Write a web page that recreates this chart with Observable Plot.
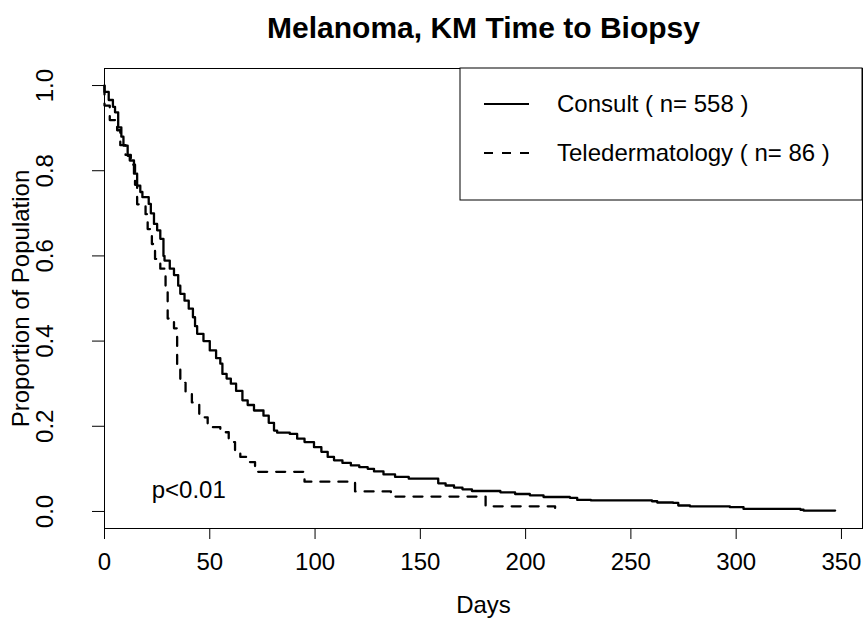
<!DOCTYPE html>
<html><head><meta charset="utf-8">
<script src="https://cdn.jsdelivr.net/npm/d3@7"></script>
<script src="https://cdn.jsdelivr.net/npm/@observablehq/plot@0.6"></script>
<style>
body{margin:0;background:#fff;}
#chart{width:864px;height:619px;}
</style></head><body><div id="chart"></div>
<script>
const titleText = "Melanoma, KM Time to Biopsy";
const xLabel = "Days";
const yLabel = "Proportion of Population";
const seriesNames = ["Consult ( n= 558 )", "Teledermatology ( n= 86 )"];
const pValueText = "p<0.01";
const pValuePos = [40, 0.05];
const xTicks = [0, 50, 100, 150, 200, 250, 300, 350];
const yTicks = [0, 0.2, 0.4, 0.6, 0.8, 1.0];

const consultDays = [0,0,2,4,5,6.5,8,9,11,12,14,15.5,17,18,21,22,23.5,25,26.5,28,28.5,31,33,35,36,38,40,42,43,44,47,50,53,55,56,58,60,62.5,65.5,68,71,75.5,78,80.5,82,88,91.5,95,99.5,103,106,109,113,117,121,125,128,132.5,138,144.5,158.5,162,166,170,174.5,188,195,202,208.5,221,224.5,231,260,262.5,270,272.5,278,297,303.5,330.5,332,347];
const consultSurv = [1,0.985,0.966,0.950,0.937,0.902,0.880,0.859,0.835,0.824,0.793,0.765,0.750,0.738,0.722,0.700,0.675,0.660,0.640,0.600,0.589,0.570,0.555,0.530,0.511,0.495,0.476,0.456,0.435,0.417,0.400,0.378,0.360,0.347,0.323,0.312,0.300,0.283,0.261,0.250,0.237,0.225,0.208,0.190,0.185,0.182,0.171,0.163,0.151,0.140,0.128,0.120,0.114,0.108,0.104,0.100,0.094,0.087,0.081,0.077,0.066,0.061,0.056,0.052,0.048,0.045,0.041,0.038,0.034,0.032,0.027,0.026,0.024,0.021,0.020,0.014,0.012,0.010,0.006,0.004,0.002,0.002];

const teleDays = [0,0,2.5,6,7.5,10,12.5,14.5,15.5,19.5,20.5,22.5,24,26.5,29,30,33,34.5,36,38.5,41.5,45,49,55,59,62,64.5,68,71.5,95,119,136,181,214];
const teleSurv = [1,0.953,0.919,0.895,0.860,0.837,0.814,0.767,0.721,0.698,0.663,0.628,0.593,0.570,0.523,0.453,0.430,0.337,0.302,0.279,0.256,0.221,0.198,0.186,0.163,0.140,0.128,0.116,0.093,0.070,0.047,0.035,0.012,0];

const consult = consultDays.map((d, i) => ({day: d, surv: consultSurv[i]}));
const tele = teleDays.map((d, i) => ({day: d, surv: teleSurv[i]}));

const FONT = "'Liberation Sans', Arial, Helvetica, sans-serif";
const DASH = "9,9";

const plot = Plot.plot({
  width: 864, height: 619,
  marginLeft: 104, marginRight: 2, marginTop: 68, marginBottom: 91,
  style: {fontFamily: FONT, fontSize: "24px", color: "black", background: "white", overflow: "visible"},
  x: {domain: [0, 360]},
  y: {domain: [-0.04, 1.04]},
  marks: [
    Plot.frame({stroke: "black", strokeWidth: 1}),
    Plot.axisX({ticks: xTicks, tickSize: 11, tickPadding: 13, fontSize: 24, label: null, tickFormat: d3.format("d")}),
    Plot.axisY({ticks: yTicks, tickSize: 12, tickPadding: 40, tickRotate: -90, fontSize: 24, label: null, tickFormat: d3.format(".1f")}),
    Plot.line(consult, {x: "day", y: "surv", curve: "step-after", stroke: "black", strokeWidth: 2.3}),
    Plot.line(tele, {x: "day", y: "surv", curve: "step-after", stroke: "black", strokeWidth: 2.3, strokeDasharray: DASH}),
    Plot.text([pValueText], {x: () => pValuePos[0], y: () => pValuePos[1], text: d => d, fontSize: 24}),
    Plot.text([titleText], {text: d => d, frameAnchor: "top", dy: -31, lineAnchor: "bottom", fontSize: 30, fontWeight: "bold"}),
    Plot.text([xLabel], {text: d => d, frameAnchor: "bottom", dy: 84, lineAnchor: "bottom", fontSize: 24}),
    Plot.text([yLabel], {text: d => d, frameAnchor: "left", textAnchor: "middle", dx: -76, rotate: -90, lineAnchor: "bottom", fontSize: 24})
  ]
});

// Legend (top-right, inside the plot frame)
const xScale = plot.scale("x"), yScale = plot.scale("y");
const frameRight = xScale.range[1], frameTop = yScale.range[1];
const boxW = 402, boxH = 132;
const lg = d3.select(plot).append("g").attr("font-family", FONT).attr("font-size", 24).attr("text-anchor", "start");
lg.append("rect").attr("x", frameRight - boxW).attr("y", frameTop).attr("width", boxW).attr("height", boxH)
  .attr("fill", "white").attr("stroke", "black").attr("stroke-width", 1);
const rowY = [frameTop + 36, frameTop + 85];
seriesNames.forEach((name, i) => {
  const lx = frameRight - boxW + 24;
  lg.append("line").attr("x1", lx).attr("x2", lx + 45).attr("y1", rowY[i]).attr("y2", rowY[i])
    .attr("stroke", "black").attr("stroke-width", 2).attr("stroke-dasharray", i === 1 ? DASH : null);
  lg.append("text").attr("x", lx + 73).attr("y", rowY[i]).attr("dy", "0.35em").attr("text-anchor", "start").attr("fill", "black").text(name);
});

document.getElementById("chart").appendChild(plot);
</script></body></html>
